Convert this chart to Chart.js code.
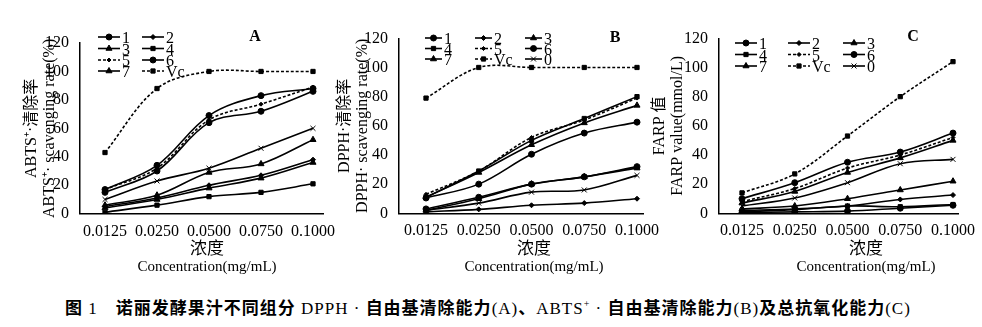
<!DOCTYPE html>
<html>
<head>
<meta charset="utf-8">
<script src="https://cdn.jsdelivr.net/npm/chart.js@4/dist/chart.umd.min.js"></script>
<style>
  body { margin: 0; background: #fff; width: 982px; height: 327px; position: relative; overflow: hidden; }
  canvas { position: absolute; top: 0; }
  #caption { position: absolute; left: 65px; top: 297px; white-space: nowrap; color: #000;
             font: 17px/20px "Liberation Serif", "Noto Sans CJK SC", serif; letter-spacing: 1px; }
  #caption b { font-family: "Noto Sans CJK SC", sans-serif; }
  #caption sup { font-size: 10px; line-height: 0; }
</style>
</head>
<body>
<canvas id="chartA" width="345" height="280" style="left:0"></canvas>
<canvas id="chartB" width="345" height="280" style="left:330px"></canvas>
<canvas id="chartC" width="337" height="280" style="left:645px"></canvas>
<div id="caption"><b>图</b> 1<span style="display:inline-block;width:18px"></span><b>诺丽发酵果汁不同组分</b> DPPH · <b>自由基清除能力</b>(A)<b>、</b>ABTS<sup>+</sup> · <b>自由基清除能力</b>(B)<b>及总抗氧化能力</b>(C)</div>

<script>
// data
const concentrations = ['0.0125', '0.0250', '0.0500', '0.0750', '0.1000'];
const seriesNames = ['1', '2', '3', '4', '5', '6', '7', 'Vc', '0'];
const yTicks = [0, 20, 40, 60, 80, 100, 120];

// panel A: ABTS+ scavenging rate (%)
const abtsValues = [
    [17, 34, 69, 83, 88],
    [5, 11, 20, 27, 38],
    [6, 13, 29, 35, 52],
    [1, 6, 12, 15, 21],
    [17, 32, 66, 77, 89],
    [15, 30, 64, 72, 86],
    [4, 10, 18, 25, 36],
    [43, 88, 100, 100, 100],
    [10, 23, 32, 46, 60]
];

// panel B: DPPH scavenging rate (%)
const dpphValues = [
    [3, 11, 20, 25, 32],
    [1, 2.7, 5.5, 7, 10],
    [11, 28, 47, 62, 74],
    [11, 29, 50, 65, 80],
    [13, 29, 52, 64, 79],
    [10.5, 20, 40.5, 55, 62.5],
    [2, 10, 20, 25, 31],
    [79, 100, 100, 100, 100],
    [2, 7, 14.5, 16, 26]
];

// panel C: FARP value (mmol/L)
const farpValues = [
    [10, 21, 35, 42, 55],
    [2, 3, 5, 9.5, 12.5],
    [3, 5, 10, 16, 22],
    [1, 2.5, 5, 4.5, 6],
    [8, 17, 31, 40, 52],
    [0.5, 1, 1.5, 3.5, 5.5],
    [7, 15, 28, 38, 50],
    [14, 27, 53, 80, 104],
    [5, 10.5, 21, 34, 37]
];

// look of each series
const pointStyles = ['circle', 'rectRot', 'triangle', 'rect', 'rectRot', 'circle', 'triangle', 'rect', 'crossRot'];
const pointSizes = [3, 2.5, 3.5, 3, 2, 3, 3.5, 3, 3.5];
const dashedSeries = ['5', 'Vc'];

const FONT = '"Liberation Serif", "Noto Sans CJK SC", serif';
Chart.defaults.font.family = FONT;
Chart.defaults.font.size = 16;
Chart.defaults.color = '#000';

// legend, panel letter and x title drawn inside each panel
const panelLegend = {
    id: 'panelLegend',
    afterDraw(chart, args, opts) {
        const ctx = chart.ctx;
        const ds = chart.data.datasets;
        ctx.save();
        ctx.fillStyle = '#000';
        ctx.strokeStyle = '#000';
        ctx.textBaseline = 'middle';
        ctx.font = '16px ' + FONT;
        opts.order.forEach((idx, k) => {
            const d = ds[idx];
            const x = opts.cols[k % opts.cols.length];
            const y = opts.rows[Math.floor(k / opts.cols.length)];
            ctx.lineWidth = 1.6;
            ctx.setLineDash(d.borderDash);
            ctx.beginPath();
            ctx.moveTo(x, y);
            ctx.lineTo(x + opts.sample, y);
            ctx.stroke();
            ctx.setLineDash([]);
            ctx.lineWidth = 1;
            Chart.helpers.drawPoint(ctx, { pointStyle: d.pointStyle, radius: d.pointRadius, rotation: 0, borderWidth: 1 },
                x + opts.sample / 2, y);
            ctx.textAlign = 'left';
            ctx.fillText(d.label, x + opts.sample + 2, y + 2);
        });
        ctx.font = 'bold 16px ' + FONT;
        ctx.textAlign = 'center';
        ctx.fillText(opts.letter, opts.letterX, opts.letterY);
        ctx.font = '17px ' + FONT;
        ctx.fillText('浓度', opts.xTitleX, 250);
        ctx.font = '15px ' + FONT;
        ctx.fillText('Concentration(mg/mL)', opts.xTitleX, 267);
        ctx.restore();
    }
};

function makeDatasets(values) {
    return seriesNames.map((name, i) => ({
        label: name,
        data: values[i].map((v, j) => ({ x: j, y: v })),
        borderColor: '#000',
        backgroundColor: '#000',
        borderWidth: 1.6,
        borderDash: dashedSeries.includes(name) ? [3, 2] : [],
        pointStyle: pointStyles[i],
        pointRadius: pointSizes[i],
        pointBorderWidth: 1,
        tension: 0.35,
        fill: false
    }));
}

function makePanel(id, values, p) {
    const canvas = document.getElementById(id);
    const step = (p.lastCat - p.firstCat) / (concentrations.length - 1);
    return new Chart(canvas, {
        type: 'line',
        data: { datasets: makeDatasets(values) },
        options: {
            responsive: false,
            animation: false,
            layout: { padding: { left: 0, right: canvas.width - p.chartRight, top: p.top, bottom: 0 } },
            plugins: { legend: { display: false }, tooltip: { enabled: false }, panelLegend: p.legend },
            scales: {
                x: {
                    type: 'linear',
                    min: -(p.firstCat - p.chartLeft) / step,
                    max: concentrations.length - 1 + (p.chartRight - p.lastCat) / step,
                    grid: { display: false },
                    border: { color: '#000', width: 1.5 },
                    ticks: { padding: 0, maxRotation: 0, autoSkip: false, callback: v => concentrations[v] },
                    afterBuildTicks: s => { s.ticks = concentrations.map((c, i) => ({ value: i })); },
                    afterFit: s => { s.height = canvas.height - p.bottom; }
                },
                y: {
                    min: 0,
                    max: 120,
                    grid: { display: false },
                    border: { color: '#000', width: 1.5 },
                    ticks: { padding: 3 },
                    afterBuildTicks: s => { s.ticks = yTicks.map(v => ({ value: v })); },
                    afterFit: s => { s.width = p.chartLeft; },
                    title: { display: true, text: p.yTitle, padding: { top: p.yTitlePad, bottom: 0 },
                             font: { size: 16, lineHeight: '18px' } }
                }
            }
        },
        plugins: [panelLegend]
    });
}

makePanel('chartA', abtsValues, {
    chartLeft: 80, chartRight: 323, top: 43, bottom: 213.7, firstCat: 105, lastCat: 313,
    yTitle: ['ABTS⁺·清除率', 'ABTS⁺· scavenging rate(%)'], yTitlePad: 23,
    legend: { order: [0, 1, 2, 3, 4, 5, 6, 7], cols: [98, 142], rows: [37, 48.5, 60, 71], sample: 22,
              letter: 'A', letterX: 255, letterY: 37, xTitleX: 207 }
});

makePanel('chartB', dpphValues, {
    chartLeft: 69, chartRight: 313, top: 38.3, bottom: 213.3, firstCat: 96, lastCat: 307,
    yTitle: ['DPPH·清除率', 'DPPH· scavenging rate(%)'], yTitlePad: 6,
    legend: { order: [0, 1, 2, 3, 4, 5, 6, 7, 8], cols: [95, 145, 195], rows: [38, 48.5, 59], sample: 17,
              letter: 'B', letterX: 285, letterY: 38, xTitleX: 204 }
});

makePanel('chartC', farpValues, {
    chartLeft: 74, chartRight: 313, top: 38.3, bottom: 213.3, firstCat: 97, lastCat: 308,
    yTitle: ['FARP 值', 'FARP value(mmol/L)'], yTitlePad: 6,
    legend: { order: [0, 1, 2, 3, 4, 5, 6, 7, 8], cols: [90, 143, 198], rows: [43, 54.5, 66], sample: 22,
              letter: 'C', letterX: 268, letterY: 37, xTitleX: 221 }
});
</script>
</body>
</html>
